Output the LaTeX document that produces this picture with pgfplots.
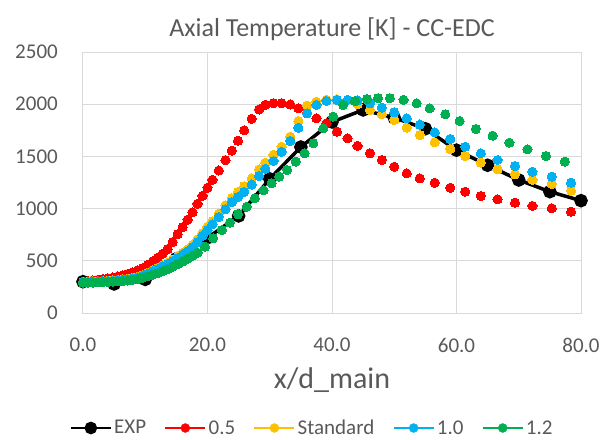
\documentclass[border=0pt]{standalone}
\usepackage{pgfplots}
\pgfplotsset{compat=1.18}
\usepackage{fontspec}
\setmainfont{Carlito}
\definecolor{txt}{HTML}{595959}
\definecolor{grd}{HTML}{D9D9D9}
\definecolor{cred}{HTML}{FF0000}
\definecolor{cyel}{HTML}{FFC000}
\definecolor{cblu}{HTML}{00B0F0}
\definecolor{cgrn}{HTML}{00B050}

\begin{document}
\begin{tikzpicture}
\path[use as bounding box] (-83pt,-126pt) rectangle (518pt,313pt);
\begin{axis}[
    at={(0,0)}, anchor=south west,
    scale only axis, width=498pt, height=261pt,
    xmin=0, xmax=80, ymin=0, ymax=2500,
    xtick={0,20,...,80}, ytick={0,500,...,2500},
    grid=major, major grid style={grd, line width=1pt},
    axis line style={grd, line width=1pt},
    tick style={draw=none},
    clip=false,
    /pgf/number format/assume math mode=true,
    /pgf/number format/1000 sep={},
    ticklabel style={font=\fontsize{21}{24}\selectfont, text=txt},
    xticklabel style={anchor=center, inner sep=0pt, yshift=-32pt,
        /pgf/number format/.cd, fixed, fixed zerofill, precision=1},
    yticklabel style={anchor=east, inner sep=0pt, xshift=-25pt},
    title={Axial Temperature [K] - CC-EDC},
    title style={at={(0.5,1)}, anchor=center, yshift=17pt,
        font=\fontsize{26}{30}\selectfont, text=txt},
    xlabel={x/d\_main},
    xlabel style={at={(axis description cs:0.5,0)}, anchor=center,
        yshift=-67pt, font=\fontsize{30}{34}\selectfont, text=txt},
    legend columns=5,
    legend style={at={(axis description cs:0.46,0)}, anchor=center,
        yshift=-115pt, draw=none, fill=none, inner sep=1pt,
        font=\fontsize{21}{24}\selectfont, text=txt,
        /tikz/every even column/.append style={column sep=16pt}},
]
\addplot[black, line width=3.5pt, mark=*, mark size=5pt,
    legend image code/.code={\draw[black, line width=2.5pt] (0pt,0pt) -- (40pt,0pt);
        \fill[black] (20pt,0pt) circle (4.5pt);}]
coordinates {
(0,300) (5,278) (10,322) (15,520) (20,720) (25,930) (30,1285) (35,1590)
(40,1830) (45,1945) (50,1870) (55,1765) (60,1560) (65,1415) (70,1274)
(75,1162) (80,1076)
};
\addlegendentry{EXP}

\addplot[cred, only marks, mark=*, mark size=4.6pt, mark options={draw=cred, fill=cred, line width=0pt},
    legend image code/.code={\draw[cred, line width=2.5pt] (0pt,0pt) -- (40pt,0pt);
        \fill[cred] (20pt,0pt) circle (4.5pt);}]
coordinates {
(0,300) (0.8,306) (1.6,312) (2.4,318) (3.2,325) (4.0,332) (4.8,340) (5.6,350)
(6.4,361) (7.2,374) (8.0,390) (8.8,408) (9.6,430) (10.4,462) (11.2,495)
(12.0,530) (12.8,568) (13.6,612) (14.4,680) (15.2,755) (16.0,822) (16.8,893)
(17.6,965) (18.4,1045) (19.2,1122) (20.0,1200) (20.8,1275) (21.8,1365)
(22.9,1465) (23.9,1555) (24.9,1650) (25.9,1750) (27.1,1860) (28.3,1950)
(29.3,1995) (30.6,2010) (31.9,2010) (33.3,1998) (34.6,1961) (36.0,1915)
(37.5,1865) (39.1,1817) (40.8,1737) (42.5,1673) (44.1,1600) (46.1,1530)
(48.0,1466) (50.0,1401) (52.0,1338) (54.1,1290) (56.5,1248) (59.0,1200)
(61.4,1162) (63.9,1121) (66.6,1089) (69.4,1057) (72.2,1025) (75.3,1003)
(78.4,970)
};
\addlegendentry{0.5}

\addplot[cyel, only marks, mark=*, mark size=4.6pt, mark options={draw=cyel, fill=cyel, line width=0pt},
    legend image code/.code={\draw[cyel, line width=2.5pt] (0pt,0pt) -- (40pt,0pt);
        \fill[cyel] (20pt,0pt) circle (4.5pt);}]
coordinates {
(0,298) (0.8,300) (1.6,302) (2.4,304) (3.2,307) (4.0,310) (4.8,313) (5.6,317)
(6.4,322) (7.2,328) (8.0,337) (8.8,348) (9.6,363) (10.4,385) (11.2,408)
(12.0,432) (12.8,457) (13.6,482) (14.4,510) (15.2,542) (16.0,576) (16.8,610)
(17.6,652) (18.4,705) (19.2,765) (20.0,825) (20.8,880) (21.8,950)
(22.9,1030) (23.9,1100) (24.9,1160) (25.9,1215) (27.1,1290) (28.3,1375)
(29.3,1440) (30.6,1514) (31.9,1593) (33.3,1689) (34.6,1839) (36.0,1986)
(37.5,2024) (39.1,2041) (40.8,2045) (42.5,2041) (44.1,1999) (46.1,1945)
(48.0,1904) (50.0,1849) (52.0,1775) (54.1,1705) (56.5,1635) (59.0,1571)
(61.4,1504) (63.9,1440) (66.6,1377) (69.4,1329) (72.2,1274) (75.3,1236)
(78.4,1172)
};
\addlegendentry{Standard}

\addplot[cblu, only marks, mark=*, mark size=4.6pt, mark options={draw=cblu, fill=cblu, line width=0pt},
    legend image code/.code={\draw[cblu, line width=2.5pt] (0pt,0pt) -- (40pt,0pt);
        \fill[cblu] (20pt,0pt) circle (4.5pt);}]
coordinates {
(0,295) (0.8,297) (1.6,299) (2.4,301) (3.2,303) (4.0,306) (4.8,309) (5.6,313)
(6.4,318) (7.2,324) (8.0,332) (8.8,342) (9.6,356) (10.4,378) (11.2,400)
(12.0,422) (12.8,446) (13.6,470) (14.4,496) (15.2,527) (16.0,560) (16.8,590)
(17.6,630) (18.4,680) (19.2,740) (20.0,795) (20.8,850) (21.8,920)
(22.9,995) (23.9,1062) (24.9,1110) (25.9,1160) (27.1,1230) (28.3,1312)
(29.3,1380) (30.6,1456) (31.9,1545) (33.3,1648) (34.6,1775) (36.0,1913)
(37.5,1993) (39.1,2031) (40.8,2041) (42.5,2041) (44.1,2035) (46.1,2009)
(48.0,1967) (50.0,1923) (52.0,1865) (54.1,1805) (56.5,1731) (59.0,1667)
(61.4,1593) (63.9,1530) (66.6,1466) (69.4,1408) (72.2,1354) (75.3,1306)
(78.4,1248)
};
\addlegendentry{1.0}

\addplot[cgrn, only marks, mark=*, mark size=4.6pt, mark options={draw=cgrn, fill=cgrn, line width=0pt},
    legend image code/.code={\draw[cgrn, line width=2.5pt] (0pt,0pt) -- (40pt,0pt);
        \fill[cgrn] (20pt,0pt) circle (4.5pt);}]
coordinates {
(0,290) (0.8,291) (1.6,292) (2.4,294) (3.2,296) (4.0,298) (4.8,300) (5.6,303)
(6.4,307) (7.2,312) (8.0,318) (8.8,326) (9.6,338) (10.4,352) (11.2,366)
(12.0,382) (12.8,400) (13.6,420) (14.4,442) (15.2,468) (16.0,494) (16.8,520)
(17.6,548) (18.4,578) (19.6,635) (20.9,716) (22.3,795) (23.6,865)
(24.9,946) (26.3,1018) (27.6,1099) (29.0,1175) (30.3,1243) (31.5,1306)
(32.8,1370) (34.2,1450) (35.6,1530) (37.0,1626) (38.6,1769) (40.2,1881)
(41.8,1993) (43.7,2031) (45.6,2050) (47.4,2057) (49.3,2057) (51.5,2041)
(53.6,2009) (55.7,1961) (58.2,1904) (60.5,1839) (63.1,1763) (65.8,1699)
(68.5,1632) (71.4,1568) (74.4,1504) (77.4,1450)
};
\addlegendentry{1.2}
\end{axis}
\end{tikzpicture}
\end{document}
